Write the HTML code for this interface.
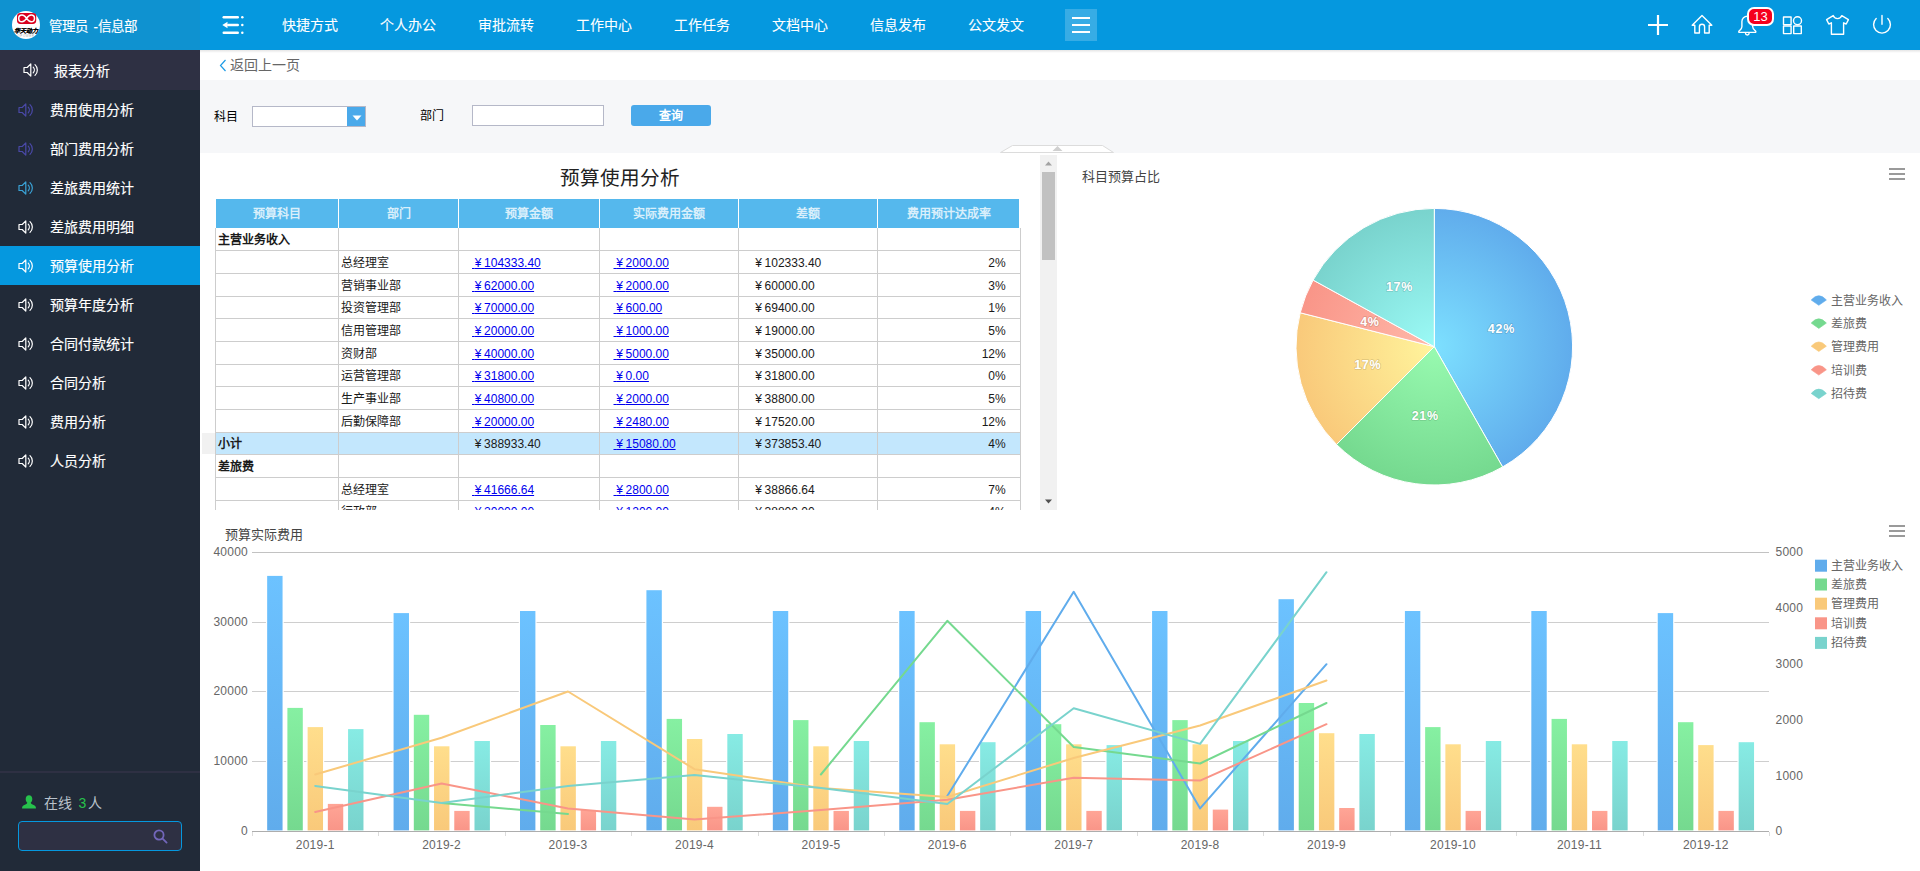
<!DOCTYPE html>
<html lang="zh-CN"><head><meta charset="utf-8"><title>预算使用分析</title>
<style>
*{box-sizing:border-box;margin:0;padding:0}
html,body{width:1920px;height:871px;overflow:hidden;background:#fff}
body{font-family:"Liberation Sans",sans-serif;font-size:12px;color:#000;position:relative}
.abs{position:absolute}
#side{position:absolute;left:0;top:0;width:200px;height:871px;background:#212a38}
#shead{position:absolute;left:0;top:0;width:200px;height:50px;background:#0f92d0}
#shead .name{position:absolute;left:49px;top:18px;font-size:13.500px;word-spacing:1.800px;color:#fff;font-weight:500;white-space:nowrap;line-height:18px}
#stitle{position:absolute;left:0;top:50px;width:200px;height:40px;background:#2e3043}
#stitle span{position:absolute;left:54px;top:11px;font-size:14px;line-height:20px;color:#fff;font-weight:500}
.mi{position:absolute;left:0;width:200px;height:39px}
.mi span{position:absolute;left:50px;top:10px;font-size:14px;line-height:20px;color:#fff;font-weight:500;white-space:nowrap}
.mi.act{background:#0598df}
.mi span,#stitle span,#shead .name{-webkit-text-stroke:0.15px #fff}
.ni{-webkit-text-stroke:0.1px #fff}
#nav{position:absolute;left:200px;top:0;width:1720px;height:50px;background:#0598df}
.ni{position:absolute;top:15px;font-size:14px;line-height:20px;color:#fff;white-space:nowrap}
#crumb{position:absolute;left:200px;top:50px;width:1720px;height:30px;background:#fff}
#filter{position:absolute;left:200px;top:80px;width:1720px;height:73px;background:#f6f7f9}
.lbl{position:absolute;font-size:12px;line-height:16px;color:#000;white-space:nowrap}
.tx{position:absolute;white-space:nowrap;line-height:16px;font-size:12px;color:#1a1a1a}
.hd{position:absolute;top:199px;height:29px;background:#55b8ed;color:#d9effb;font-weight:bold;font-size:12px;line-height:31px;text-align:center;white-space:nowrap}
a.lk{color:#0000ee;text-decoration:underline}
.y0{letter-spacing:-0.67px}.y{letter-spacing:2.67px}
</style></head><body>

<div id="side">
<div id="shead">
<svg class="abs" style="left:12px;top:11px" width="28" height="28" viewBox="0 0 28 28" font-family="Liberation Sans, sans-serif"><circle cx="14" cy="14" r="14" fill="#fff"/><rect x="5" y="1.900" width="19.200" height="11" rx="3.400" fill="#d9001f"/><path d="M14.600 7.400C12.800 4.700 11.200 4.100 10 4.100A3.300 3.300 0 0 0 10 10.700C11.200 10.700 12.800 10.100 14.600 7.400C16.400 4.700 18 4.100 19.200 4.100A3.300 3.300 0 0 1 19.200 10.700C18 10.700 16.400 10.100 14.600 7.400Z" fill="none" stroke="#fff" stroke-width="1.500"/><text x="13.800" y="21.800" text-anchor="middle" font-size="6" font-weight="bold" font-style="italic" fill="#000" stroke="#000" stroke-width="0.150">华天动力</text><text x="14" y="25.600" text-anchor="middle" font-size="3" fill="#aaa" letter-spacing="0.600">OPOWER</text></svg>
<div class="name">管理员 -信息部</div>
</div>
<div id="stitle"><svg style="position:absolute;left:23px;top:13px" width="16" height="14" viewBox="0 0 16 14" fill="none" stroke="#fff" stroke-width="1.2" stroke-linejoin="round" stroke-linecap="round"><path d="M1 4.5h3.2l3.6-3.6v12.2l-3.6-3.6H1z"/><path d="M10.2 4.2a4 4 0 0 1 0 5.6"/><path d="M12 1.6a7.4 7.4 0 0 1 0 10.8"/></svg><span>报表分析</span></div>
<div class="mi" style="top:90px"><svg style="position:absolute;left:18px;top:13px" width="16" height="14" viewBox="0 0 16 14" fill="none" stroke="#4a49a8" stroke-width="1.2" stroke-linejoin="round" stroke-linecap="round"><path d="M1 4.5h3.2l3.6-3.6v12.2l-3.6-3.6H1z"/><path d="M10.2 4.2a4 4 0 0 1 0 5.6"/><path d="M12 1.6a7.4 7.4 0 0 1 0 10.8"/></svg><span>费用使用分析</span></div>
<div class="mi" style="top:129px"><svg style="position:absolute;left:18px;top:13px" width="16" height="14" viewBox="0 0 16 14" fill="none" stroke="#4a49a8" stroke-width="1.2" stroke-linejoin="round" stroke-linecap="round"><path d="M1 4.5h3.2l3.6-3.6v12.2l-3.6-3.6H1z"/><path d="M10.2 4.2a4 4 0 0 1 0 5.6"/><path d="M12 1.6a7.4 7.4 0 0 1 0 10.8"/></svg><span>部门费用分析</span></div>
<div class="mi" style="top:168px"><svg style="position:absolute;left:18px;top:13px" width="16" height="14" viewBox="0 0 16 14" fill="none" stroke="#3aa2d6" stroke-width="1.2" stroke-linejoin="round" stroke-linecap="round"><path d="M1 4.5h3.2l3.6-3.6v12.2l-3.6-3.6H1z"/><path d="M10.2 4.2a4 4 0 0 1 0 5.6"/><path d="M12 1.6a7.4 7.4 0 0 1 0 10.8"/></svg><span>差旅费用统计</span></div>
<div class="mi" style="top:207px"><svg style="position:absolute;left:18px;top:13px" width="16" height="14" viewBox="0 0 16 14" fill="none" stroke="#fff" stroke-width="1.2" stroke-linejoin="round" stroke-linecap="round"><path d="M1 4.5h3.2l3.6-3.6v12.2l-3.6-3.6H1z"/><path d="M10.2 4.2a4 4 0 0 1 0 5.6"/><path d="M12 1.6a7.4 7.4 0 0 1 0 10.8"/></svg><span>差旅费用明细</span></div>
<div class="mi act" style="top:246px"><svg style="position:absolute;left:18px;top:13px" width="16" height="14" viewBox="0 0 16 14" fill="none" stroke="#fff" stroke-width="1.2" stroke-linejoin="round" stroke-linecap="round"><path d="M1 4.5h3.2l3.6-3.6v12.2l-3.6-3.6H1z"/><path d="M10.2 4.2a4 4 0 0 1 0 5.6"/><path d="M12 1.6a7.4 7.4 0 0 1 0 10.8"/></svg><span>预算使用分析</span></div>
<div class="mi" style="top:285px"><svg style="position:absolute;left:18px;top:13px" width="16" height="14" viewBox="0 0 16 14" fill="none" stroke="#fff" stroke-width="1.2" stroke-linejoin="round" stroke-linecap="round"><path d="M1 4.5h3.2l3.6-3.6v12.2l-3.6-3.6H1z"/><path d="M10.2 4.2a4 4 0 0 1 0 5.6"/><path d="M12 1.6a7.4 7.4 0 0 1 0 10.8"/></svg><span>预算年度分析</span></div>
<div class="mi" style="top:324px"><svg style="position:absolute;left:18px;top:13px" width="16" height="14" viewBox="0 0 16 14" fill="none" stroke="#fff" stroke-width="1.2" stroke-linejoin="round" stroke-linecap="round"><path d="M1 4.5h3.2l3.6-3.6v12.2l-3.6-3.6H1z"/><path d="M10.2 4.2a4 4 0 0 1 0 5.6"/><path d="M12 1.6a7.4 7.4 0 0 1 0 10.8"/></svg><span>合同付款统计</span></div>
<div class="mi" style="top:363px"><svg style="position:absolute;left:18px;top:13px" width="16" height="14" viewBox="0 0 16 14" fill="none" stroke="#fff" stroke-width="1.2" stroke-linejoin="round" stroke-linecap="round"><path d="M1 4.5h3.2l3.6-3.6v12.2l-3.6-3.6H1z"/><path d="M10.2 4.2a4 4 0 0 1 0 5.6"/><path d="M12 1.6a7.4 7.4 0 0 1 0 10.8"/></svg><span>合同分析</span></div>
<div class="mi" style="top:402px"><svg style="position:absolute;left:18px;top:13px" width="16" height="14" viewBox="0 0 16 14" fill="none" stroke="#fff" stroke-width="1.2" stroke-linejoin="round" stroke-linecap="round"><path d="M1 4.5h3.2l3.6-3.6v12.2l-3.6-3.6H1z"/><path d="M10.2 4.2a4 4 0 0 1 0 5.6"/><path d="M12 1.6a7.4 7.4 0 0 1 0 10.8"/></svg><span>费用分析</span></div>
<div class="mi" style="top:441px"><svg style="position:absolute;left:18px;top:13px" width="16" height="14" viewBox="0 0 16 14" fill="none" stroke="#fff" stroke-width="1.2" stroke-linejoin="round" stroke-linecap="round"><path d="M1 4.5h3.2l3.6-3.6v12.2l-3.6-3.6H1z"/><path d="M10.2 4.2a4 4 0 0 1 0 5.6"/><path d="M12 1.6a7.4 7.4 0 0 1 0 10.8"/></svg><span>人员分析</span></div>
<div class="abs" style="left:0;top:771px;width:200px;height:2px;background:#2e3043"></div>
<svg class="abs" style="left:21px;top:794px" width="16" height="16" viewBox="0 0 16 16"><path d="M8 1.2c2 0 3.3 1.6 3.3 3.8c0 1.7-.7 3-1.6 3.8c.3 1 1.3 1.5 3 2.1c1.3.5 2 1.300 2.200 2.600V14.600H1.100V13.500c.2-1.300.9-2.100 2.200-2.600c1.700-.6 2.700-1.100 3-2.100C5.400 8 4.700 6.700 4.700 5C4.700 2.800 6 1.200 8 1.200z" fill="#27c24c"/></svg>
<div class="abs" style="left:44px;top:794px;font-size:14px;line-height:18px;color:#b9c2cc;white-space:nowrap">在线 <span style="color:#27c24c;position:relative;left:2.700px">3</span> 人</div>
<div class="abs" style="left:18px;top:821px;width:164px;height:30px;border:1px solid #0598df;border-radius:4px;background:#2e3043"></div>
<svg class="abs" style="left:152px;top:828px" width="17" height="17" viewBox="0 0 17 17" fill="none" stroke="#7266ba" stroke-width="1.8" stroke-linecap="round"><circle cx="7" cy="7" r="4.6"/><path d="M10.6 10.6l4 4"/></svg>
</div>
<div id="nav">
<svg class="abs" style="left:22px;top:15px" width="23" height="20" viewBox="0 0 23 20" fill="#fff"><rect x="0.5" y="1" width="16.5" height="2.4" rx="1.2"/><circle cx="20.3" cy="2.2" r="1.25"/><rect x="5" y="8.8" width="12" height="2.4" rx="1.2"/><path d="M0.3 10l5.2-3.3v6.6z"/><circle cx="20.3" cy="10" r="1.25"/><rect x="0.5" y="16.6" width="16.5" height="2.4" rx="1.2"/><circle cx="20.3" cy="17.8" r="1.25"/></svg>
<div class="ni" style="left:82px">快捷方式</div>
<div class="ni" style="left:180px">个人办公</div>
<div class="ni" style="left:278px">审批流转</div>
<div class="ni" style="left:376px">工作中心</div>
<div class="ni" style="left:474px">工作任务</div>
<div class="ni" style="left:572px">文档中心</div>
<div class="ni" style="left:670px">信息发布</div>
<div class="ni" style="left:768px">公文发文</div>
<div class="abs" style="left:865px;top:9px;width:32px;height:32px;background:rgba(255,255,255,0.2)"></div>
<div class="abs" style="left:872px;top:17px;width:18px;height:2px;background:#fff"></div><div class="abs" style="left:872px;top:24px;width:18px;height:2px;background:#fff"></div><div class="abs" style="left:872px;top:31px;width:18px;height:2px;background:#fff"></div>
<svg class="abs" style="left:1440px;top:10px" width="260" height="30" viewBox="1640 10 260 30" fill="none" stroke="#fff" stroke-width="1.4" stroke-linejoin="round" stroke-linecap="round">
<path d="M1648 25h20M1658 15v20" stroke-width="2.2" stroke-linecap="butt"/>
<path d="M1692.200 25.200l9.800-9.600l9.800 9.600h-2.600v7.800h-4.600v-6.200a2.600 2.600 0 0 0-5.200 0v6.200h-4.600v-7.800z"/>
<path d="M1747.300 16.200a5.400 5.400 0 0 0-5.400 5.400v5.200c0 2-1.800 3.200-2.900 4.300c-.5.600-.3 1.300.5 1.300h15.600c.8 0 1-.7.500-1.300c-1.100-1.100-2.900-2.300-2.900-4.300v-5.200a5.400 5.400 0 0 0-5.400-5.400zM1745.500 33.200a1.800 1.800 0 0 0 3.600 0"/>
<rect x="1783.500" y="17" width="7.600" height="7.600"/><circle cx="1797.500" cy="20.800" r="4"/><rect x="1783.500" y="26" width="7.600" height="7.600"/><rect x="1793.700" y="26" width="7.600" height="7.600"/>
<path d="M1833.200 15.600c.8 2.200 2.600 3 4.300 3s3.500-.8 4.300-3l6.600 4l-2.200 4.400l-2.600-1.200v11.400h-12.200v-11.400l-2.600 1.200l-2.200-4.400z"/>
<path d="M1876.200 18.600a8.400 8.400 0 1 0 11.600 0M1882 15.400v8.800"/>
</svg>
<div class="abs" style="left:1547px;top:7px;width:27px;height:19px;border:2px solid #fff;border-radius:7px;background:#f5001d;color:#fff;font-size:13px;line-height:16px;text-align:center">13</div>
</div>
<div class="abs" style="left:200px;top:50px;width:1720px;height:3px;background:linear-gradient(rgba(0,0,0,0.12),rgba(0,0,0,0))"></div>
<div id="crumb"><svg class="abs" style="left:19px;top:9px" width="8" height="13" viewBox="0 0 8 13" fill="none" stroke="#1c9be6" stroke-width="1.2"><path d="M6.500 1L1.500 6.500L6.500 12"/></svg><div class="abs" style="left:30px;top:6px;font-size:14px;line-height:18px;color:#666;white-space:nowrap">返回上一页</div></div>
<div class="abs" style="left:200px;top:50px;width:1720px;height:3px;background:linear-gradient(rgba(0,0,0,0.10),rgba(0,0,0,0))"></div>
<div id="filter">
<div class="lbl" style="left:14px;top:29px">科目</div>
<div class="abs" style="left:52px;top:26px;width:114px;height:21px;border:1px solid #b5b8c8;background:#fff"></div>
<div class="abs" style="left:147px;top:26px;width:19px;height:21px;background:#4aa9ea;border:1px solid #b5b8c8;border-left:none"></div>
<svg class="abs" style="left:152px;top:34.500px" width="10" height="6" viewBox="0 0 10 6"><path d="M0.500 0.500h9L5 5.500z" fill="#fff"/></svg>
<div class="lbl" style="left:220px;top:28px">部门</div>
<div class="abs" style="left:272px;top:25px;width:132px;height:21px;border:1px solid #b5b8c8;background:#fff"></div>
<div class="abs" style="left:431px;top:25px;width:80px;height:21px;border-radius:3px;background:#4aa9ea;color:#fff;font-weight:bold;font-size:12px;line-height:23px;text-align:center">查询</div>
</div>
<svg class="abs" style="left:998px;top:144px" width="118" height="10" viewBox="998 144 118 10"><path d="M1000.500 152.500L1012.500 145.500H1102.500L1113.500 152.500z" fill="#fff" stroke="#dcdcdc" stroke-width="1"/><path d="M1052.500 151h10l-5-5z" fill="#d0d0d0"/></svg>
<div class="abs" style="left:560px;top:165px;width:117px;font-size:19.600px;line-height:26px;color:#222;white-space:nowrap;text-align:center">预算使用分析</div>
<div id="tbl" class="abs" style="left:200px;top:195px;width:830px;height:315px;overflow:hidden">
<div class="hd" style="left:16px;top:4px;width:122px">预算科目</div>
<div class="hd" style="left:139px;top:4px;width:119px">部门</div>
<div class="hd" style="left:259px;top:4px;width:140px">预算金额</div>
<div class="hd" style="left:400px;top:4px;width:138px">实际费用金额</div>
<div class="hd" style="left:539px;top:4px;width:138px">差额</div>
<div class="hd" style="left:678px;top:4px;width:141px">费用预计达成率</div>
<div class="abs" style="left:2px;top:238px;width:13px;height:21px;background:#f1f1f1"></div>
<div class="abs" style="left:15px;top:238px;width:806px;height:21px;background:#c3e7fd"></div>
<div class="abs" style="left:15px;top:55px;width:806px;height:1px;background:#cdcdcd"></div>
<div class="abs" style="left:15px;top:78px;width:806px;height:1px;background:#cdcdcd"></div>
<div class="abs" style="left:15px;top:101px;width:806px;height:1px;background:#cdcdcd"></div>
<div class="abs" style="left:15px;top:123px;width:806px;height:1px;background:#cdcdcd"></div>
<div class="abs" style="left:15px;top:146px;width:806px;height:1px;background:#cdcdcd"></div>
<div class="abs" style="left:15px;top:169px;width:806px;height:1px;background:#cdcdcd"></div>
<div class="abs" style="left:15px;top:191px;width:806px;height:1px;background:#cdcdcd"></div>
<div class="abs" style="left:15px;top:214px;width:806px;height:1px;background:#cdcdcd"></div>
<div class="abs" style="left:15px;top:237px;width:806px;height:1px;background:#cdcdcd"></div>
<div class="abs" style="left:15px;top:259px;width:806px;height:1px;background:#cdcdcd"></div>
<div class="abs" style="left:15px;top:282px;width:806px;height:1px;background:#cdcdcd"></div>
<div class="abs" style="left:15px;top:305px;width:806px;height:1px;background:#cdcdcd"></div>
<div class="abs" style="left:15px;top:328px;width:806px;height:1px;background:#cdcdcd"></div>
<div class="abs" style="left:15px;top:33px;width:1px;height:300px;background:#cdcdcd"></div>
<div class="abs" style="left:138px;top:33px;width:1px;height:300px;background:#cdcdcd"></div>
<div class="abs" style="left:258px;top:33px;width:1px;height:300px;background:#cdcdcd"></div>
<div class="abs" style="left:399px;top:33px;width:1px;height:300px;background:#cdcdcd"></div>
<div class="abs" style="left:538px;top:33px;width:1px;height:300px;background:#cdcdcd"></div>
<div class="abs" style="left:677px;top:33px;width:1px;height:300px;background:#cdcdcd"></div>
<div class="abs" style="left:820px;top:33px;width:1px;height:300px;background:#cdcdcd"></div>
<div class="tx" style="left:18px;top:37.26px;font-weight:bold">主营业务收入</div>
<div class="tx" style="left:141px;top:59.94px">总经理室</div>
<div class="tx" style="left:272px;top:59.94px"><a class="lk"><span class="y0">&nbsp;</span><span class="y">¥</span>104333.40</a></div>
<div class="tx" style="left:413.5px;top:59.94px"><a class="lk"><span class="y0">&nbsp;</span><span class="y">¥</span>2000.00</a></div>
<div class="tx" style="left:552.5px;top:59.94px"><span class="y0">&nbsp;</span><span class="y">¥</span>102333.40</div>
<div class="tx" style="right:24.299999999999955px;top:59.94px">2%</div>
<div class="tx" style="left:141px;top:82.62px">营销事业部</div>
<div class="tx" style="left:272px;top:82.62px"><a class="lk"><span class="y0">&nbsp;</span><span class="y">¥</span>62000.00</a></div>
<div class="tx" style="left:413.5px;top:82.62px"><a class="lk"><span class="y0">&nbsp;</span><span class="y">¥</span>2000.00</a></div>
<div class="tx" style="left:552.5px;top:82.62px"><span class="y0">&nbsp;</span><span class="y">¥</span>60000.00</div>
<div class="tx" style="right:24.299999999999955px;top:82.62px">3%</div>
<div class="tx" style="left:141px;top:105.3px">投资管理部</div>
<div class="tx" style="left:272px;top:105.3px"><a class="lk"><span class="y0">&nbsp;</span><span class="y">¥</span>70000.00</a></div>
<div class="tx" style="left:413.5px;top:105.3px"><a class="lk"><span class="y0">&nbsp;</span><span class="y">¥</span>600.00</a></div>
<div class="tx" style="left:552.5px;top:105.3px"><span class="y0">&nbsp;</span><span class="y">¥</span>69400.00</div>
<div class="tx" style="right:24.299999999999955px;top:105.3px">1%</div>
<div class="tx" style="left:141px;top:127.98px">信用管理部</div>
<div class="tx" style="left:272px;top:127.98px"><a class="lk"><span class="y0">&nbsp;</span><span class="y">¥</span>20000.00</a></div>
<div class="tx" style="left:413.5px;top:127.98px"><a class="lk"><span class="y0">&nbsp;</span><span class="y">¥</span>1000.00</a></div>
<div class="tx" style="left:552.5px;top:127.98px"><span class="y0">&nbsp;</span><span class="y">¥</span>19000.00</div>
<div class="tx" style="right:24.299999999999955px;top:127.98px">5%</div>
<div class="tx" style="left:141px;top:150.66px">资财部</div>
<div class="tx" style="left:272px;top:150.66px"><a class="lk"><span class="y0">&nbsp;</span><span class="y">¥</span>40000.00</a></div>
<div class="tx" style="left:413.5px;top:150.66px"><a class="lk"><span class="y0">&nbsp;</span><span class="y">¥</span>5000.00</a></div>
<div class="tx" style="left:552.5px;top:150.66px"><span class="y0">&nbsp;</span><span class="y">¥</span>35000.00</div>
<div class="tx" style="right:24.299999999999955px;top:150.66px">12%</div>
<div class="tx" style="left:141px;top:173.34px">运营管理部</div>
<div class="tx" style="left:272px;top:173.34px"><a class="lk"><span class="y0">&nbsp;</span><span class="y">¥</span>31800.00</a></div>
<div class="tx" style="left:413.5px;top:173.34px"><a class="lk"><span class="y0">&nbsp;</span><span class="y">¥</span>0.00</a></div>
<div class="tx" style="left:552.5px;top:173.34px"><span class="y0">&nbsp;</span><span class="y">¥</span>31800.00</div>
<div class="tx" style="right:24.299999999999955px;top:173.34px">0%</div>
<div class="tx" style="left:141px;top:196.02px">生产事业部</div>
<div class="tx" style="left:272px;top:196.02px"><a class="lk"><span class="y0">&nbsp;</span><span class="y">¥</span>40800.00</a></div>
<div class="tx" style="left:413.5px;top:196.02px"><a class="lk"><span class="y0">&nbsp;</span><span class="y">¥</span>2000.00</a></div>
<div class="tx" style="left:552.5px;top:196.02px"><span class="y0">&nbsp;</span><span class="y">¥</span>38800.00</div>
<div class="tx" style="right:24.299999999999955px;top:196.02px">5%</div>
<div class="tx" style="left:141px;top:218.7px">后勤保障部</div>
<div class="tx" style="left:272px;top:218.7px"><a class="lk"><span class="y0">&nbsp;</span><span class="y">¥</span>20000.00</a></div>
<div class="tx" style="left:413.5px;top:218.7px"><a class="lk"><span class="y0">&nbsp;</span><span class="y">¥</span>2480.00</a></div>
<div class="tx" style="left:552.5px;top:218.7px"><span class="y0">&nbsp;</span><span class="y">¥</span>17520.00</div>
<div class="tx" style="right:24.299999999999955px;top:218.7px">12%</div>
<div class="tx" style="left:18px;top:241.38px;font-weight:bold">小计</div>
<div class="tx" style="left:272px;top:241.38px"><span class="y0">&nbsp;</span><span class="y">¥</span>388933.40</div>
<div class="tx" style="left:413.5px;top:241.38px"><a class="lk"><span class="y0">&nbsp;</span><span class="y">¥</span>15080.00</a></div>
<div class="tx" style="left:552.5px;top:241.38px"><span class="y0">&nbsp;</span><span class="y">¥</span>373853.40</div>
<div class="tx" style="right:24.299999999999955px;top:241.38px">4%</div>
<div class="tx" style="left:18px;top:264.06px;font-weight:bold">差旅费</div>
<div class="tx" style="left:141px;top:286.74px">总经理室</div>
<div class="tx" style="left:272px;top:286.74px"><a class="lk"><span class="y0">&nbsp;</span><span class="y">¥</span>41666.64</a></div>
<div class="tx" style="left:413.5px;top:286.74px"><a class="lk"><span class="y0">&nbsp;</span><span class="y">¥</span>2800.00</a></div>
<div class="tx" style="left:552.5px;top:286.74px"><span class="y0">&nbsp;</span><span class="y">¥</span>38866.64</div>
<div class="tx" style="right:24.299999999999955px;top:286.74px">7%</div>
<div class="tx" style="left:141px;top:309.42px">行政部</div>
<div class="tx" style="left:272px;top:309.42px"><a class="lk"><span class="y0">&nbsp;</span><span class="y">¥</span>20000.00</a></div>
<div class="tx" style="left:413.5px;top:309.42px"><a class="lk"><span class="y0">&nbsp;</span><span class="y">¥</span>1200.00</a></div>
<div class="tx" style="left:552.5px;top:309.42px"><span class="y0">&nbsp;</span><span class="y">¥</span>38800.00</div>
<div class="tx" style="right:24.299999999999955px;top:309.42px">4%</div>
</div>
<div class="abs" style="left:1040px;top:155px;width:17px;height:355px;background:#f1f1f1"></div>
<div class="abs" style="left:1042px;top:172px;width:13px;height:88px;background:#c1c1c1"></div>
<svg class="abs" style="left:1040px;top:155px" width="17" height="355" viewBox="0 0 17 355"><path d="M5 10.500h7l-3.500-4z" fill="#a3a3a3"/><path d="M5 344.500h7l-3.500 4z" fill="#505050"/></svg>
<svg class="abs" style="left:0;top:0;pointer-events:none" width="1920" height="871" viewBox="0 0 1920 871" font-family="Liberation Sans, sans-serif">
<defs>
<radialGradient id="pg0" gradientUnits="userSpaceOnUse" cx="1434.3" cy="346.7" r="138.3"><stop offset="0" stop-color="#7de0ff"/><stop offset="1" stop-color="#60acec"/></radialGradient>
<linearGradient id="bg0" x1="0" y1="0" x2="0" y2="1"><stop offset="0" stop-color="#6cc2ff"/><stop offset="1" stop-color="#60acec"/></linearGradient>
<radialGradient id="pg1" gradientUnits="userSpaceOnUse" cx="1434.3" cy="346.7" r="138.3"><stop offset="0" stop-color="#98fab0"/><stop offset="1" stop-color="#75d98f"/></radialGradient>
<linearGradient id="bg1" x1="0" y1="0" x2="0" y2="1"><stop offset="0" stop-color="#86f0a2"/><stop offset="1" stop-color="#75d98f"/></linearGradient>
<radialGradient id="pg2" gradientUnits="userSpaceOnUse" cx="1434.3" cy="346.7" r="138.3"><stop offset="0" stop-color="#fff49c"/><stop offset="1" stop-color="#f9c97a"/></radialGradient>
<linearGradient id="bg2" x1="0" y1="0" x2="0" y2="1"><stop offset="0" stop-color="#ffde8c"/><stop offset="1" stop-color="#f9c97a"/></linearGradient>
<radialGradient id="pg3" gradientUnits="userSpaceOnUse" cx="1434.3" cy="346.7" r="138.3"><stop offset="0" stop-color="#ffb9aa"/><stop offset="1" stop-color="#f99588"/></radialGradient>
<linearGradient id="bg3" x1="0" y1="0" x2="0" y2="1"><stop offset="0" stop-color="#ffa596"/><stop offset="1" stop-color="#f99588"/></linearGradient>
<radialGradient id="pg4" gradientUnits="userSpaceOnUse" cx="1434.3" cy="346.7" r="138.3"><stop offset="0" stop-color="#9bfaf6"/><stop offset="1" stop-color="#79d3cd"/></radialGradient>
<linearGradient id="bg4" x1="0" y1="0" x2="0" y2="1"><stop offset="0" stop-color="#87ebe4"/><stop offset="1" stop-color="#79d3cd"/></linearGradient>
</defs>
<path d="M1434.3 346.7L1434.30 208.40A138.3 138.3 0 0 1 1502.61 466.95Z" fill="url(#pg0)" stroke="#fff" stroke-width="1" stroke-linejoin="round"/>
<path d="M1434.3 346.7L1502.61 466.95A138.3 138.3 0 0 1 1336.51 444.49Z" fill="url(#pg1)" stroke="#fff" stroke-width="1" stroke-linejoin="round"/>
<path d="M1434.3 346.7L1336.51 444.49A138.3 138.3 0 0 1 1300.23 312.77Z" fill="url(#pg2)" stroke="#fff" stroke-width="1" stroke-linejoin="round"/>
<path d="M1434.3 346.7L1300.23 312.77A138.3 138.3 0 0 1 1313.11 280.07Z" fill="url(#pg3)" stroke="#fff" stroke-width="1" stroke-linejoin="round"/>
<path d="M1434.3 346.7L1313.11 280.07A138.3 138.3 0 0 1 1434.30 208.40Z" fill="url(#pg4)" stroke="#fff" stroke-width="1" stroke-linejoin="round"/>
<text x="1501.4" y="332.8" text-anchor="middle" font-size="12.500" font-weight="bold" fill="#fff" letter-spacing="0.7" stroke="rgba(0,0,0,0.15)" stroke-width="1.6" paint-order="stroke" stroke-linejoin="round">42%</text>
<text x="1425.2" y="419.90000000000003" text-anchor="middle" font-size="12.500" font-weight="bold" fill="#fff" letter-spacing="0.7" stroke="rgba(0,0,0,0.15)" stroke-width="1.6" paint-order="stroke" stroke-linejoin="round">21%</text>
<text x="1367.7" y="368.8" text-anchor="middle" font-size="12.500" font-weight="bold" fill="#fff" letter-spacing="0.7" stroke="rgba(0,0,0,0.15)" stroke-width="1.6" paint-order="stroke" stroke-linejoin="round">17%</text>
<text x="1369.9" y="326.0" text-anchor="middle" font-size="12.500" font-weight="bold" fill="#fff" letter-spacing="0.7" stroke="rgba(0,0,0,0.15)" stroke-width="1.6" paint-order="stroke" stroke-linejoin="round">4%</text>
<text x="1399.5" y="291.1" text-anchor="middle" font-size="12.500" font-weight="bold" fill="#fff" letter-spacing="0.7" stroke="rgba(0,0,0,0.15)" stroke-width="1.6" paint-order="stroke" stroke-linejoin="round">17%</text>
<text x="1082" y="180.700" font-size="13" fill="#444">科目预算占比</text>
<rect x="1889" y="168" width="16" height="2" fill="#9a9a9a"/>
<rect x="1889" y="173" width="16" height="2" fill="#9a9a9a"/>
<rect x="1889" y="178" width="16" height="2" fill="#9a9a9a"/>
<path d="M1811.2 300.0Q1818.8 291.4 1826.4 300.0L1818.8 305.3Z" fill="#60acec" stroke="#60acec" stroke-width="0.6" stroke-linejoin="round"/>
<text x="1831.300" y="304.9" font-size="12" fill="#666">主营业务收入</text>
<path d="M1811.2 323.1Q1818.8 314.5 1826.4 323.1L1818.8 328.4Z" fill="#75d98f" stroke="#75d98f" stroke-width="0.6" stroke-linejoin="round"/>
<text x="1831.300" y="328.0" font-size="12" fill="#666">差旅费</text>
<path d="M1811.2 346.2Q1818.8 337.6 1826.4 346.2L1818.8 351.5Z" fill="#f9c97a" stroke="#f9c97a" stroke-width="0.6" stroke-linejoin="round"/>
<text x="1831.300" y="351.1" font-size="12" fill="#666">管理费用</text>
<path d="M1811.2 369.8Q1818.8 361.2 1826.4 369.8L1818.8 375.1Z" fill="#f99588" stroke="#f99588" stroke-width="0.6" stroke-linejoin="round"/>
<text x="1831.300" y="374.7" font-size="12" fill="#666">培训费</text>
<path d="M1811.2 393.4Q1818.8 384.8 1826.4 393.4L1818.8 398.7Z" fill="#79d3cd" stroke="#79d3cd" stroke-width="0.6" stroke-linejoin="round"/>
<text x="1831.300" y="398.3" font-size="12" fill="#666">招待费</text>
</svg>
<svg class="abs" style="left:0;top:0;pointer-events:none" width="1920" height="871" viewBox="0 0 1920 871" font-family="Liberation Sans, sans-serif">
<text x="225" y="538.700" font-size="13" fill="#444">预算实际费用</text>
<rect x="1889" y="525" width="16" height="2" fill="#9a9a9a"/>
<rect x="1889" y="530" width="16" height="2" fill="#9a9a9a"/>
<rect x="1889" y="535" width="16" height="2" fill="#9a9a9a"/>
<rect x="252.0" y="552" width="1517.0" height="1" fill="#c2c2c2"/>
<rect x="252.0" y="622" width="1517.0" height="1" fill="#cecece"/>
<rect x="252.0" y="691" width="1517.0" height="1" fill="#cecece"/>
<rect x="252.0" y="761" width="1517.0" height="1" fill="#cecece"/>
<text x="248" y="556.3" text-anchor="end" font-size="12" fill="#666" letter-spacing="0.25">40000</text>
<text x="248" y="626.3" text-anchor="end" font-size="12" fill="#666" letter-spacing="0.25">30000</text>
<text x="248" y="695.3" text-anchor="end" font-size="12" fill="#666" letter-spacing="0.25">20000</text>
<text x="248" y="765.3" text-anchor="end" font-size="12" fill="#666" letter-spacing="0.25">10000</text>
<text x="248" y="835.3" text-anchor="end" font-size="12" fill="#666" letter-spacing="0.25">0</text>
<text x="1775.500" y="556.3" font-size="12" fill="#666" letter-spacing="0.25">5000</text>
<text x="1775.500" y="612.1" font-size="12" fill="#666" letter-spacing="0.25">4000</text>
<text x="1775.500" y="667.9" font-size="12" fill="#666" letter-spacing="0.25">3000</text>
<text x="1775.500" y="723.7" font-size="12" fill="#666" letter-spacing="0.25">2000</text>
<text x="1775.500" y="779.5" font-size="12" fill="#666" letter-spacing="0.25">1000</text>
<text x="1775.500" y="835.3" font-size="12" fill="#666" letter-spacing="0.25">0</text>
<rect x="267.16" y="575.9" width="15.400" height="254.5" fill="url(#bg0)" stroke="#fff" stroke-width="2.400" paint-order="stroke"/>
<rect x="287.39" y="707.9" width="15.400" height="122.5" fill="url(#bg1)" stroke="#fff" stroke-width="2.400" paint-order="stroke"/>
<rect x="307.62" y="727.1" width="15.400" height="103.3" fill="url(#bg2)" stroke="#fff" stroke-width="2.400" paint-order="stroke"/>
<rect x="327.84" y="803.9" width="15.400" height="26.5" fill="url(#bg3)" stroke="#fff" stroke-width="2.400" paint-order="stroke"/>
<rect x="348.07" y="729.1" width="15.400" height="101.3" fill="url(#bg4)" stroke="#fff" stroke-width="2.400" paint-order="stroke"/>
<rect x="393.58" y="613.1" width="15.400" height="217.3" fill="url(#bg0)" stroke="#fff" stroke-width="2.400" paint-order="stroke"/>
<rect x="413.81" y="714.8" width="15.400" height="115.6" fill="url(#bg1)" stroke="#fff" stroke-width="2.400" paint-order="stroke"/>
<rect x="434.03" y="746.3" width="15.400" height="84.1" fill="url(#bg2)" stroke="#fff" stroke-width="2.400" paint-order="stroke"/>
<rect x="454.26" y="810.9" width="15.400" height="19.5" fill="url(#bg3)" stroke="#fff" stroke-width="2.400" paint-order="stroke"/>
<rect x="474.49" y="741.0" width="15.400" height="89.4" fill="url(#bg4)" stroke="#fff" stroke-width="2.400" paint-order="stroke"/>
<rect x="520.00" y="611.0" width="15.400" height="219.4" fill="url(#bg0)" stroke="#fff" stroke-width="2.400" paint-order="stroke"/>
<rect x="540.22" y="725.0" width="15.400" height="105.4" fill="url(#bg1)" stroke="#fff" stroke-width="2.400" paint-order="stroke"/>
<rect x="560.45" y="746.3" width="15.400" height="84.1" fill="url(#bg2)" stroke="#fff" stroke-width="2.400" paint-order="stroke"/>
<rect x="580.68" y="810.0" width="15.400" height="20.4" fill="url(#bg3)" stroke="#fff" stroke-width="2.400" paint-order="stroke"/>
<rect x="600.90" y="741.0" width="15.400" height="89.4" fill="url(#bg4)" stroke="#fff" stroke-width="2.400" paint-order="stroke"/>
<rect x="646.41" y="590.2" width="15.400" height="240.2" fill="url(#bg0)" stroke="#fff" stroke-width="2.400" paint-order="stroke"/>
<rect x="666.64" y="718.9" width="15.400" height="111.5" fill="url(#bg1)" stroke="#fff" stroke-width="2.400" paint-order="stroke"/>
<rect x="686.87" y="739.0" width="15.400" height="91.4" fill="url(#bg2)" stroke="#fff" stroke-width="2.400" paint-order="stroke"/>
<rect x="707.09" y="806.8" width="15.400" height="23.6" fill="url(#bg3)" stroke="#fff" stroke-width="2.400" paint-order="stroke"/>
<rect x="727.32" y="734.0" width="15.400" height="96.4" fill="url(#bg4)" stroke="#fff" stroke-width="2.400" paint-order="stroke"/>
<rect x="772.83" y="611.0" width="15.400" height="219.4" fill="url(#bg0)" stroke="#fff" stroke-width="2.400" paint-order="stroke"/>
<rect x="793.06" y="720.1" width="15.400" height="110.3" fill="url(#bg1)" stroke="#fff" stroke-width="2.400" paint-order="stroke"/>
<rect x="813.28" y="746.3" width="15.400" height="84.1" fill="url(#bg2)" stroke="#fff" stroke-width="2.400" paint-order="stroke"/>
<rect x="833.51" y="810.9" width="15.400" height="19.5" fill="url(#bg3)" stroke="#fff" stroke-width="2.400" paint-order="stroke"/>
<rect x="853.74" y="741.0" width="15.400" height="89.4" fill="url(#bg4)" stroke="#fff" stroke-width="2.400" paint-order="stroke"/>
<rect x="899.25" y="611.0" width="15.400" height="219.4" fill="url(#bg0)" stroke="#fff" stroke-width="2.400" paint-order="stroke"/>
<rect x="919.47" y="722.2" width="15.400" height="108.2" fill="url(#bg1)" stroke="#fff" stroke-width="2.400" paint-order="stroke"/>
<rect x="939.70" y="744.3" width="15.400" height="86.1" fill="url(#bg2)" stroke="#fff" stroke-width="2.400" paint-order="stroke"/>
<rect x="959.93" y="810.9" width="15.400" height="19.5" fill="url(#bg3)" stroke="#fff" stroke-width="2.400" paint-order="stroke"/>
<rect x="980.15" y="742.2" width="15.400" height="88.2" fill="url(#bg4)" stroke="#fff" stroke-width="2.400" paint-order="stroke"/>
<rect x="1025.66" y="611.0" width="15.400" height="219.4" fill="url(#bg0)" stroke="#fff" stroke-width="2.400" paint-order="stroke"/>
<rect x="1045.89" y="724.2" width="15.400" height="106.2" fill="url(#bg1)" stroke="#fff" stroke-width="2.400" paint-order="stroke"/>
<rect x="1066.12" y="744.3" width="15.400" height="86.1" fill="url(#bg2)" stroke="#fff" stroke-width="2.400" paint-order="stroke"/>
<rect x="1086.34" y="810.9" width="15.400" height="19.5" fill="url(#bg3)" stroke="#fff" stroke-width="2.400" paint-order="stroke"/>
<rect x="1106.57" y="745.1" width="15.400" height="85.3" fill="url(#bg4)" stroke="#fff" stroke-width="2.400" paint-order="stroke"/>
<rect x="1152.08" y="611.0" width="15.400" height="219.4" fill="url(#bg0)" stroke="#fff" stroke-width="2.400" paint-order="stroke"/>
<rect x="1172.31" y="720.1" width="15.400" height="110.3" fill="url(#bg1)" stroke="#fff" stroke-width="2.400" paint-order="stroke"/>
<rect x="1192.53" y="744.3" width="15.400" height="86.1" fill="url(#bg2)" stroke="#fff" stroke-width="2.400" paint-order="stroke"/>
<rect x="1212.76" y="809.6" width="15.400" height="20.8" fill="url(#bg3)" stroke="#fff" stroke-width="2.400" paint-order="stroke"/>
<rect x="1232.99" y="741.0" width="15.400" height="89.4" fill="url(#bg4)" stroke="#fff" stroke-width="2.400" paint-order="stroke"/>
<rect x="1278.50" y="599.2" width="15.400" height="231.2" fill="url(#bg0)" stroke="#fff" stroke-width="2.400" paint-order="stroke"/>
<rect x="1298.72" y="703.0" width="15.400" height="127.4" fill="url(#bg1)" stroke="#fff" stroke-width="2.400" paint-order="stroke"/>
<rect x="1318.95" y="733.2" width="15.400" height="97.2" fill="url(#bg2)" stroke="#fff" stroke-width="2.400" paint-order="stroke"/>
<rect x="1339.18" y="808.0" width="15.400" height="22.4" fill="url(#bg3)" stroke="#fff" stroke-width="2.400" paint-order="stroke"/>
<rect x="1359.40" y="734.0" width="15.400" height="96.4" fill="url(#bg4)" stroke="#fff" stroke-width="2.400" paint-order="stroke"/>
<rect x="1404.91" y="611.0" width="15.400" height="219.4" fill="url(#bg0)" stroke="#fff" stroke-width="2.400" paint-order="stroke"/>
<rect x="1425.14" y="727.1" width="15.400" height="103.3" fill="url(#bg1)" stroke="#fff" stroke-width="2.400" paint-order="stroke"/>
<rect x="1445.37" y="744.3" width="15.400" height="86.1" fill="url(#bg2)" stroke="#fff" stroke-width="2.400" paint-order="stroke"/>
<rect x="1465.59" y="810.9" width="15.400" height="19.5" fill="url(#bg3)" stroke="#fff" stroke-width="2.400" paint-order="stroke"/>
<rect x="1485.82" y="741.0" width="15.400" height="89.4" fill="url(#bg4)" stroke="#fff" stroke-width="2.400" paint-order="stroke"/>
<rect x="1531.33" y="611.0" width="15.400" height="219.4" fill="url(#bg0)" stroke="#fff" stroke-width="2.400" paint-order="stroke"/>
<rect x="1551.56" y="718.9" width="15.400" height="111.5" fill="url(#bg1)" stroke="#fff" stroke-width="2.400" paint-order="stroke"/>
<rect x="1571.78" y="744.3" width="15.400" height="86.1" fill="url(#bg2)" stroke="#fff" stroke-width="2.400" paint-order="stroke"/>
<rect x="1592.01" y="810.9" width="15.400" height="19.5" fill="url(#bg3)" stroke="#fff" stroke-width="2.400" paint-order="stroke"/>
<rect x="1612.24" y="741.0" width="15.400" height="89.4" fill="url(#bg4)" stroke="#fff" stroke-width="2.400" paint-order="stroke"/>
<rect x="1657.75" y="613.1" width="15.400" height="217.3" fill="url(#bg0)" stroke="#fff" stroke-width="2.400" paint-order="stroke"/>
<rect x="1677.97" y="722.2" width="15.400" height="108.2" fill="url(#bg1)" stroke="#fff" stroke-width="2.400" paint-order="stroke"/>
<rect x="1698.20" y="745.1" width="15.400" height="85.3" fill="url(#bg2)" stroke="#fff" stroke-width="2.400" paint-order="stroke"/>
<rect x="1718.43" y="810.9" width="15.400" height="19.5" fill="url(#bg3)" stroke="#fff" stroke-width="2.400" paint-order="stroke"/>
<rect x="1738.65" y="742.2" width="15.400" height="88.2" fill="url(#bg4)" stroke="#fff" stroke-width="2.400" paint-order="stroke"/>
<rect x="252.0" y="831.0" width="1517.0" height="1" fill="#adadad"/>
<rect x="252" y="832.0" width="1" height="4" fill="#dcdcdc"/>
<rect x="378" y="832.0" width="1" height="4" fill="#dcdcdc"/>
<rect x="505" y="832.0" width="1" height="4" fill="#dcdcdc"/>
<rect x="631" y="832.0" width="1" height="4" fill="#dcdcdc"/>
<rect x="758" y="832.0" width="1" height="4" fill="#dcdcdc"/>
<rect x="884" y="832.0" width="1" height="4" fill="#dcdcdc"/>
<rect x="1010" y="832.0" width="1" height="4" fill="#dcdcdc"/>
<rect x="1137" y="832.0" width="1" height="4" fill="#dcdcdc"/>
<rect x="1263" y="832.0" width="1" height="4" fill="#dcdcdc"/>
<rect x="1390" y="832.0" width="1" height="4" fill="#dcdcdc"/>
<rect x="1516" y="832.0" width="1" height="4" fill="#dcdcdc"/>
<rect x="1643" y="832.0" width="1" height="4" fill="#dcdcdc"/>
<rect x="1769" y="832.0" width="1" height="4" fill="#dcdcdc"/>
<text x="315.2" y="849" text-anchor="middle" font-size="12" fill="#666" letter-spacing="0.25">2019-1</text>
<text x="441.6" y="849" text-anchor="middle" font-size="12" fill="#666" letter-spacing="0.25">2019-2</text>
<text x="568.0" y="849" text-anchor="middle" font-size="12" fill="#666" letter-spacing="0.25">2019-3</text>
<text x="694.5" y="849" text-anchor="middle" font-size="12" fill="#666" letter-spacing="0.25">2019-4</text>
<text x="820.9" y="849" text-anchor="middle" font-size="12" fill="#666" letter-spacing="0.25">2019-5</text>
<text x="947.3" y="849" text-anchor="middle" font-size="12" fill="#666" letter-spacing="0.25">2019-6</text>
<text x="1073.7" y="849" text-anchor="middle" font-size="12" fill="#666" letter-spacing="0.25">2019-7</text>
<text x="1200.1" y="849" text-anchor="middle" font-size="12" fill="#666" letter-spacing="0.25">2019-8</text>
<text x="1326.5" y="849" text-anchor="middle" font-size="12" fill="#666" letter-spacing="0.25">2019-9</text>
<text x="1453.0" y="849" text-anchor="middle" font-size="12" fill="#666" letter-spacing="0.25">2019-10</text>
<text x="1579.4" y="849" text-anchor="middle" font-size="12" fill="#666" letter-spacing="0.25">2019-11</text>
<text x="1705.8" y="849" text-anchor="middle" font-size="12" fill="#666" letter-spacing="0.25">2019-12</text>
<polyline points="947.3,796.0 1073.7,591.8 1200.1,808.4 1326.5,664.2" fill="none" stroke="#60acec" stroke-width="2" stroke-linejoin="round" stroke-linecap="round"/>
<polyline points="441.6,803.0 568.0,814.0" fill="none" stroke="#75d98f" stroke-width="2" stroke-linejoin="round" stroke-linecap="round"/>
<polyline points="820.9,774.5 947.3,620.8 1073.7,747.0 1200.1,763.5 1326.5,703.0" fill="none" stroke="#75d98f" stroke-width="2" stroke-linejoin="round" stroke-linecap="round"/>
<polyline points="315.2,774.5 441.6,737.7 568.0,691.5 694.5,769.2 820.9,788.0 947.3,797.0 1073.7,758.0 1200.1,725.5 1326.5,680.5" fill="none" stroke="#f9c97a" stroke-width="2" stroke-linejoin="round" stroke-linecap="round"/>
<polyline points="315.2,812.0 441.6,783.5 568.0,808.4 694.5,819.5 820.9,810.0 947.3,799.8 1073.7,777.8 1200.1,780.6 1326.5,724.2" fill="none" stroke="#f99588" stroke-width="2" stroke-linejoin="round" stroke-linecap="round"/>
<polyline points="315.2,786.0 441.6,803.0 568.0,786.0 694.5,775.0 820.9,788.0 947.3,804.0 1073.7,708.3 1200.1,743.9 1326.5,572.2" fill="none" stroke="#79d3cd" stroke-width="2" stroke-linejoin="round" stroke-linecap="round"/>
<rect x="1815" y="559.7" width="12" height="12" fill="#60acec"/>
<text x="1831" y="570.0" font-size="12" fill="#666">主营业务收入</text>
<rect x="1815" y="578.5" width="12" height="12" fill="#75d98f"/>
<text x="1831" y="588.8" font-size="12" fill="#666">差旅费</text>
<rect x="1815" y="597.7" width="12" height="12" fill="#f9c97a"/>
<text x="1831" y="608.0" font-size="12" fill="#666">管理费用</text>
<rect x="1815" y="617.3" width="12" height="12" fill="#f99588"/>
<text x="1831" y="627.5999999999999" font-size="12" fill="#666">培训费</text>
<rect x="1815" y="636.9" width="12" height="12" fill="#79d3cd"/>
<text x="1831" y="647.1999999999999" font-size="12" fill="#666">招待费</text>
</svg>
</body></html>
